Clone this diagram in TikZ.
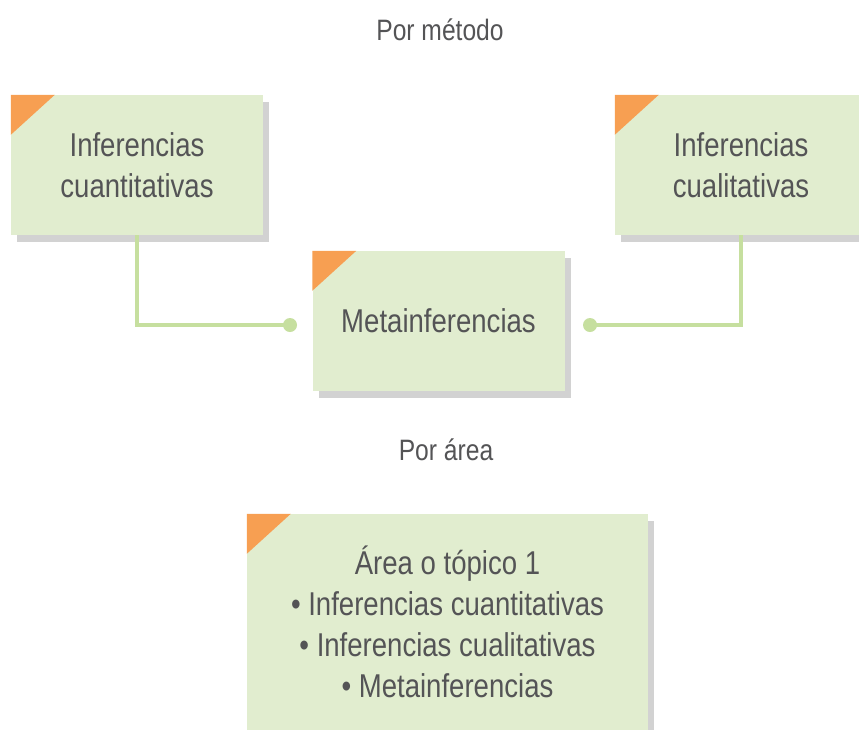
\documentclass[tikz,border=0pt]{standalone}
\usepackage{fontspec}
\setmainfont[FakeStretch=0.835]{Liberation Sans}
\usetikzlibrary{shadows}
\definecolor{boxgreen}{HTML}{E1EDCF}
\definecolor{cornerorange}{HTML}{F79F52}
\definecolor{linegreen}{HTML}{C6DF9F}
\definecolor{textgray}{HTML}{545456}

\begin{document}
\begin{tikzpicture}[x=1pt,y=-1pt,
  box/.style={fill=boxgreen, minimum width=252pt, minimum height=140pt, inner sep=0pt,
    align=center, text=textgray, font=\fontsize{33}{41}\selectfont,
    drop shadow={shadow xshift=6pt, shadow yshift=-7pt, opacity=0.25, fill=black!70}},
  title/.style={text=textgray, font=\fontsize{29.5}{34}\selectfont},
  conn/.style={draw=linegreen, line width=4pt},
  corner/.style={fill=cornerorange}]
\useasboundingbox (0,0) rectangle (859,729);
\node[box] (cuant) at (137,165) {Inferencias\\cuantitativas};
\node[box] (cual) at (741,165) {Inferencias\\cualitativas};
\node[box] (meta) at (438.5,321) {Metainferencias};
\node[box, minimum width=401pt, minimum height=216pt] (area) at (447.5,622)
  {Área o tópico 1\\\textbullet\ Inferencias cuantitativas\\\textbullet\ Inferencias cualitativas\\\textbullet\ Metainferencias};
\fill[corner] (cuant.north west) -- ++(44,0) -- ++(-44,40) -- cycle;
\fill[corner] (cual.north west) -- ++(44,0) -- ++(-44,40) -- cycle;
\fill[corner] (meta.north west) -- ++(44,0) -- ++(-44,40) -- cycle;
\fill[corner] (area.north west) -- ++(44,0) -- ++(-44,40) -- cycle;
\coordinate (dotl) at (290,325);
\coordinate (dotr) at (590,325);
\draw[conn] (cuant.south) |- (dotl);
\draw[conn] (cual.south) |- (dotr);
\fill[linegreen] (dotl) circle (7);
\fill[linegreen] (dotr) circle (7);
\node[title] (metodo) at (440,30) {Por método};
\node[title] (porarea) at (446,450) {Por área};
\end{tikzpicture}
\end{document}
